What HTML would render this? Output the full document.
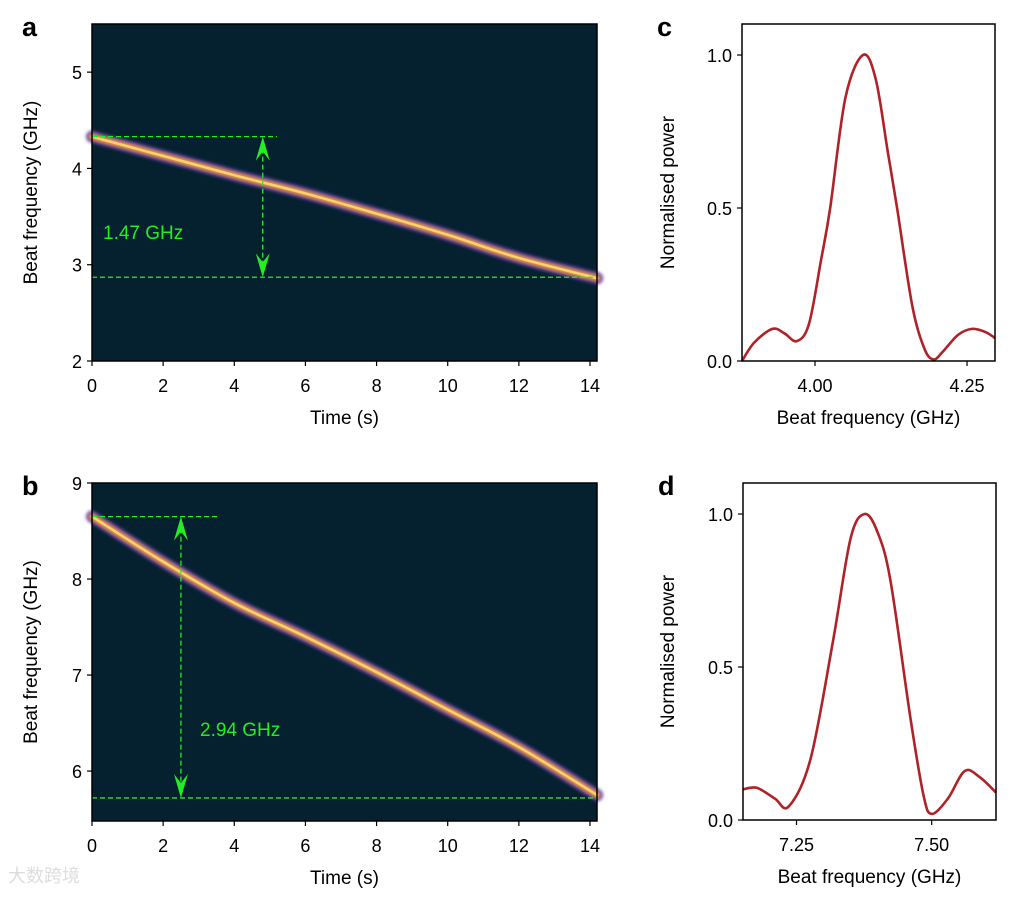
<!DOCTYPE html>
<html><head><meta charset="utf-8"><style>
body{margin:0;background:#fff;width:1025px;height:893px;overflow:hidden;font-family:"Liberation Sans",sans-serif}
svg text{font-family:"Liberation Sans","Noto Sans CJK SC",sans-serif}
</style></head><body>
<svg id="fig" width="1025" height="893" viewBox="0 0 1025 893" xmlns="http://www.w3.org/2000/svg">
<defs>
<filter id="glow" x="-10%" y="-10%" width="120%" height="120%"><feGaussianBlur stdDeviation="1.6"/></filter>
</defs>
<g id="root"></g>
<text x="8" y="882" font-size="18" fill="#ddd">大数跨境</text>
</svg>
<script>
// ---- data ----
const traceA_t = [0, 2, 4, 6, 8, 10, 12, 14.2];
const traceA_f = [4.33, 4.13, 3.93, 3.74, 3.53, 3.31, 3.07, 2.86];
const traceB_t = [0, 2, 4, 6, 8, 10, 12, 14.2];
const traceB_f = [8.65, 8.18, 7.75, 7.40, 7.03, 6.64, 6.25, 5.75];
const spanA = [4.33, 2.87];
const spanB = [8.65, 5.72];
const timeTicks = [0, 2, 4, 6, 8, 10, 12, 14];
const freqTicksA = [2, 3, 4, 5];
const freqTicksB = [6, 7, 8, 9];
const powerTicks = [0, 0.5, 1.0];
const specC_x = [3.88, 3.90, 3.93, 3.95, 3.97, 3.99, 4.01, 4.025, 4.05, 4.079, 4.10, 4.12, 4.135, 4.16, 4.18, 4.195, 4.21, 4.235, 4.258, 4.28, 4.296];
const specC_y = [0.0, 0.06, 0.105, 0.09, 0.065, 0.12, 0.33, 0.5, 0.86, 1.0, 0.92, 0.68, 0.5, 0.18, 0.04, 0.005, 0.03, 0.085, 0.105, 0.095, 0.075];
const specCTicks = [4.00, 4.25];
const specD_x = [7.151, 7.177, 7.21, 7.236, 7.276, 7.318, 7.35, 7.376, 7.40, 7.424, 7.461, 7.485, 7.50, 7.53, 7.561, 7.589, 7.619];
const specD_y = [0.10, 0.105, 0.07, 0.045, 0.2, 0.59, 0.92, 1.0, 0.94, 0.78, 0.33, 0.08, 0.02, 0.07, 0.16, 0.14, 0.09];
const specDTicks = [7.25, 7.50];

const NS = "http://www.w3.org/2000/svg";
const root = document.getElementById('root');
function mk(tag, attrs, parent, txt){
  const e = document.createElementNS(NS, tag);
  for (const k in attrs) e.setAttribute(k, attrs[k]);
  if (txt !== undefined) e.textContent = txt;
  (parent || root).appendChild(e);
  return e;
}
function lin(d0, d1, r0, r1){ return v => r0 + (v - d0) * (r1 - r0) / (d1 - d0); }
function smoothPath(pts){
  let d = `M${pts[0][0]},${pts[0][1]}`;
  for (let i = 0; i < pts.length - 1; i++){
    const p0 = pts[i-1] || pts[i], p1 = pts[i], p2 = pts[i+1], p3 = pts[i+2] || p2;
    const c1 = [p1[0] + (p2[0]-p0[0])/6, p1[1] + (p2[1]-p0[1])/6];
    const c2 = [p2[0] - (p3[0]-p1[0])/6, p2[1] - (p3[1]-p1[1])/6];
    d += ` C${c1[0]},${c1[1]} ${c2[0]},${c2[1]} ${p2[0]},${p2[1]}`;
  }
  return d;
}

function axes(g, L, T, R, B, xs, ys, xt, yt, xfmt, yfmt, xlabel, ylabel, letter, lx){
  mk('rect', {x:L, y:T, width:R-L, height:B-T, fill:'none', stroke:'#000', 'stroke-width':1.5}, g);
  xt.forEach(v => {
    const x = xs(v);
    mk('line', {x1:x, x2:x, y1:B, y2:B+5, stroke:'#000', 'stroke-width':1.2}, g);
    const t = mk('text', {x:x, y:B+31, 'font-size':18, 'text-anchor':'middle'}, g, xfmt(v));
    
    
  });
  yt.forEach(v => {
    const y = ys(v);
    mk('line', {x1:L-5, x2:L, y1:y, y2:y, stroke:'#000', 'stroke-width':1.2}, g);
    const t = mk('text', {x:L-10, y:y+7, 'font-size':18, 'text-anchor':'end'}, g, yfmt(v));
    
    
  });
  const xl = mk('text', {x:(L+R)/2, y:B+63, 'font-size':19, 'text-anchor':'middle'}, g, xlabel);
  
  
  const yx = lx, yy = (T+B)/2;
  const yl = mk('text', {x:yx, y:yy, 'font-size':19, 'text-anchor':'middle', transform:`rotate(-90 ${yx} ${yy})`}, g, ylabel);
  
  
  const pl = mk('text', {x:L - (letter==='a'||letter==='b'?70:85), y:T+12, 'font-size':27, 'font-weight':'bold'}, g, letter);
  
  
}

function spectrogram(name, L, T, R, B, fmin, fmax, ft, tt, tf, span, arrowT, topEndT, label, labelPos){
  const g = mk('g', {});
  
  
  const xs = lin(0, 14, 92, 590), ys = lin(fmin, fmax, B, T);
  mk('rect', {x:L, y:T, width:R-L, height:B-T, fill:'#05212f'}, g);
  const pts = tt.map((t,i) => [xs(t), ys(tf[i])]);
  const d = smoothPath(pts);
  const cg = mk('g', {}, g);
  const tr1 = mk('path', {d, fill:'none', stroke:'#5a3fa8', 'stroke-width':12, 'stroke-linecap':'round', filter:'url(#glow)', opacity:0.9}, cg);
  
  const tr2 = mk('path', {d, fill:'none', stroke:'#ec9050', 'stroke-width':7, 'stroke-linecap':'round', filter:'url(#glow)'}, cg);
  
  const tr3 = mk('path', {d, fill:'none', stroke:'#fbe36a', 'stroke-width':2.5, 'stroke-linecap':'round', opacity:0.85}, cg);
  
  const yTop = ys(span[0]), yBot = ys(span[1]);
  mk('line', {x1:L, x2:xs(topEndT), y1:yTop, y2:yTop, stroke:'#22ee22', 'stroke-width':1.3, 'stroke-dasharray':'5,3'}, g);
  mk('line', {x1:L, x2:R, y1:yBot, y2:yBot, stroke:'#22ee22', 'stroke-width':1.3, 'stroke-dasharray':'5,3'}, g);
  const ax = xs(arrowT);
  mk('line', {x1:ax, x2:ax, y1:yTop+4, y2:yBot-4, stroke:'#22ee22', 'stroke-width':1.3, 'stroke-dasharray':'5,3'}, g);
  mk('path', {d:`M${ax},${yTop} L${ax-7},${yTop+24} L${ax},${yTop+15} L${ax+7},${yTop+24}Z`, fill:'#22ee22'}, g);
  mk('path', {d:`M${ax},${yBot} L${ax-7},${yBot-24} L${ax},${yBot-15} L${ax+7},${yBot-24}Z`, fill:'#22ee22'}, g);
  const lt = mk('text', {x:labelPos[0], y:labelPos[1], 'font-size':19, fill:'#22ee22'}, g, label);
  
  
  axes(g, L, T, R, B, xs, ys, timeTicks, ft, v=>String(v), v=>String(v), 'Time (s)', 'Beat frequency (GHz)', name==='panel-a'?'a':'b', 37);
}

function spectrum(name, L, T, R, B, x0, x1, xt, sx, sy, letter){
  const g = mk('g', {});
  
  
  const xs = lin(x0, x1, L, R), ys = lin(0, 1, B, B - 306);
  const pts = sx.map((v,i) => [xs(v), ys(sy[i])]);
  const p = mk('path', {d:smoothPath(pts), fill:'none', stroke:'#b02228', 'stroke-width':2.6}, g);
  
  
  axes(g, L, T, R, B, xs, ys, xt, powerTicks, v=>v.toFixed(2), v=>v.toFixed(1), 'Beat frequency (GHz)', 'Normalised power', letter, 674);
}

spectrogram('panel-a', 92, 24, 597, 361, 2, 5.5, freqTicksA, traceA_t, traceA_f, spanA, 4.8, 5.2, '1.47 GHz', [103, 239]);
spectrogram('panel-b', 92, 483, 597, 821, 5.48, 9, freqTicksB, traceB_t, traceB_f, spanB, 2.5, 3.55, '2.94 GHz', [200, 736]);
spectrum('panel-c', 742, 24, 995, 361, 3.88, 4.296, specCTicks, specC_x, specC_y, 'c');
spectrum('panel-d', 743, 483, 996, 820, 7.151, 7.619, specDTicks, specD_x, specD_y, 'd');
</script>
</body></html>
